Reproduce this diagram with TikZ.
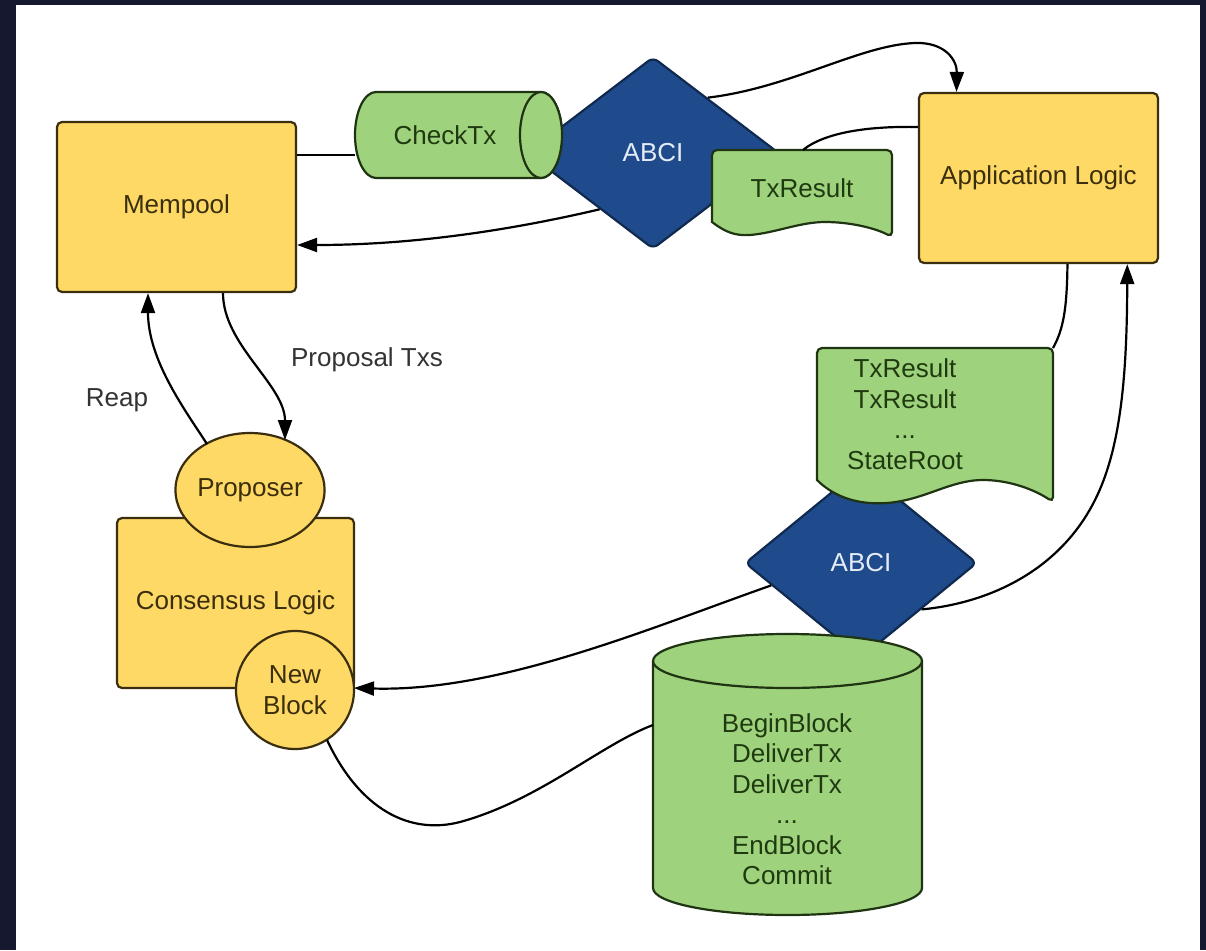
\documentclass[tikz,border=0pt]{standalone}
\usepackage{fontspec}
\setmainfont{Liberation Sans}
\usetikzlibrary{shapes.geometric,arrows.meta,calc}

\definecolor{framecol}{HTML}{15182E}
\definecolor{yel}{HTML}{FFD966}
\definecolor{yelline}{HTML}{3A2E0E}
\definecolor{yeltext}{HTML}{3A2E0C}
\definecolor{grn}{HTML}{9FD27C}
\definecolor{grnline}{HTML}{1E3412}
\definecolor{grntext}{HTML}{1F3A10}
\definecolor{blu}{HTML}{1F4B8C}
\definecolor{bluline}{HTML}{10294F}
\definecolor{blutext}{HTML}{E4ECF7}
\definecolor{labeltext}{HTML}{333333}

\begin{document}
\begin{tikzpicture}[x=1pt,y=-1pt,
  every node/.style={font=\fontsize{26}{30.5}\selectfont},
  ybox/.style={draw=yelline, line width=2.2pt, fill=yel, rounded corners=5pt,
    text=yeltext, inner sep=0pt},
  yround/.style={draw=yelline, line width=2.2pt, fill=yel, text=yeltext, inner sep=0pt},
  abci/.style={diamond, draw=bluline, line width=2.2pt, fill=blu, rounded corners=6pt,
    text=blutext, inner sep=0pt},
  greenshape/.style={draw=grnline, line width=2.2pt, fill=grn},
  greenline/.style={draw=grnline, line width=2.2pt},
  gtext/.style={text=grntext, inner sep=0pt, align=center},
  lbl/.style={text=labeltext, inner sep=0pt},
  conn/.style={draw=black, line width=2.2pt},
  arr/.style={conn, -{Triangle[length=20pt,width=14pt]}},
]

% frame and canvas
\fill[framecol] (0,0) rectangle (1206,950);
\fill[white] (16,5) rectangle (1200,950);
\useasboundingbox (0,0) rectangle (1206,950);

% main blocks
\node[ybox, minimum width=239pt, minimum height=170pt] (mempool) at (176.5,207) {Mempool};
\node[ybox, minimum width=239pt, minimum height=170pt] (appl) at (1038.5,178) {Application Logic};
\node[ybox, minimum width=237pt, minimum height=170pt] (cons) at (235.5,603) {Consensus Logic};
\node[yround, ellipse, minimum width=148pt, minimum height=114pt] (proposer) at (250,490) {Proposer};
\node[yround, circle, minimum size=118pt, align=center] (newblock) at (295,690) {New\\Block};

% upper interface: CheckTx and its result
\node[abci, minimum width=252pt, minimum height=192pt] (abciA) at (653,153) {ABCI};
\path[greenshape] (376,92) -- (541,92)
  arc[start angle=-90, end angle=90, x radius=21, y radius=43] -- (376,178)
  arc[start angle=90, end angle=270, x radius=21, y radius=43] -- cycle;
\path[greenshape] (541,135) ellipse[x radius=21, y radius=43];
\node[gtext] (checktx) at (445,135) {CheckTx};
\path[greenshape, rounded corners=5pt] (712,222) -- (712,150) -- (892,150) -- (892,237)
  [sharp corners] .. controls (875,228) and (850,222) .. (825,222)
  .. controls (800,222) and (775,233) .. (750,235)
  .. controls (735,236) and (725,232) .. (712,222) -- cycle;
\node[gtext] (txres) at (802,188) {TxResult};

% lower interface: block execution and results
\node[abci, minimum width=232pt, minimum height=190pt] (abciB) at (861,563) {ABCI};
\path[greenshape, rounded corners=5pt] (817,480) -- (817,348) -- (1053,348) -- (1053,502)
  [sharp corners] .. controls (1035,490) and (1010,480) .. (983,480)
  .. controls (950,480) and (925,500) .. (887,503)
  .. controls (860,505) and (835,498) .. (817,480) -- cycle;
\node[gtext] (results) at (905,414) {TxResult\\TxResult\\...\\StateRoot};
\path[greenshape] (653,661) -- (653,888)
  arc[start angle=180, end angle=0, x radius=134.5, y radius=27] -- (922,661)
  arc[start angle=0, end angle=-180, x radius=134.5, y radius=27] -- cycle;
\draw[greenline] (653,661) arc[start angle=180, end angle=0, x radius=134.5, y radius=27];
\node[gtext] (calls) at (787,799) {BeginBlock\\DeliverTx\\DeliverTx\\...\\EndBlock\\Commit};

% connector end points on drawn shapes
\coordinate (chkW) at (355,155);
\coordinate (txresN) at (803,150);
\coordinate (resNE) at (1053,348);
\coordinate (callsW) at (653,725);
\coordinate (abciAne) at ($(abciA.north)!0.43!(abciA.east)$);
\coordinate (abciAsw) at ($(abciA.west)!0.58!(abciA.south)$);
\coordinate (abciBsw) at ($(abciB.west)!0.233!(abciB.south)$);
\coordinate (abciBse) at ($(abciB.east)!0.483!(abciB.south)$);
\coordinate (applNin) at ($(appl.north west)!0.16!(appl.north east)$);
\coordinate (applW) at (appl.west |- 0,127);
\coordinate (applSout) at ($(appl.south west)!0.62!(appl.south east)$);
\coordinate (applSin) at ($(appl.south west)!0.868!(appl.south east)$);
\coordinate (memE1) at (mempool.east |- 0,155);
\coordinate (memE2) at (mempool.east |- 0,245);
\coordinate (memSreap) at (mempool.south -| 148,0);
\coordinate (memSprop) at (mempool.south -| 223,0);
\coordinate (propNE) at ($(proposer.center)+(35,-50)$);
\coordinate (propNW) at ($(proposer.center)+(-43,-46)$);
\coordinate (nbE) at ($(newblock.center)+(59,-2)$);
\coordinate (nbSW) at ($(newblock.center)+(32,50)$);

% connectors
\draw[conn] (memE1) -- (chkW);
\draw[arr] (abciAne) .. controls (790,88) and (860,45) .. (915,43)
  .. controls (945,42) and (957,60) .. (applNin);
\draw[conn] (applW) .. controls (870,126) and (825,132) .. (txresN);
\draw[arr] (abciAsw) .. controls (520,228) and (420,245) .. (memE2);
\draw[arr] (memSprop) .. controls (223,345) and (285,385) .. (propNE);
\draw[arr] (propNW) .. controls (185,410) and (148,360) .. (memSreap);
\draw[arr] (abciBsw) .. controls (650,628) and (500,692) .. (nbE);
\draw[conn] (nbSW) .. controls (360,810) and (410,835) .. (460,822)
  .. controls (540,800) and (600,745) .. (callsW);
\draw[arr] (abciBse) .. controls (990,603) and (1060,570) .. (1095,500)
  .. controls (1120,450) and (1127,380) .. (applSin);
\draw[conn] (applSout) .. controls (1067,310) and (1063,330) .. (resNE);

% labels
\node[lbl] (lprop) at (367,360) {Proposal Txs};
\node[lbl] (lreap) at (117,400) {Reap};
\end{tikzpicture}
\end{document}
